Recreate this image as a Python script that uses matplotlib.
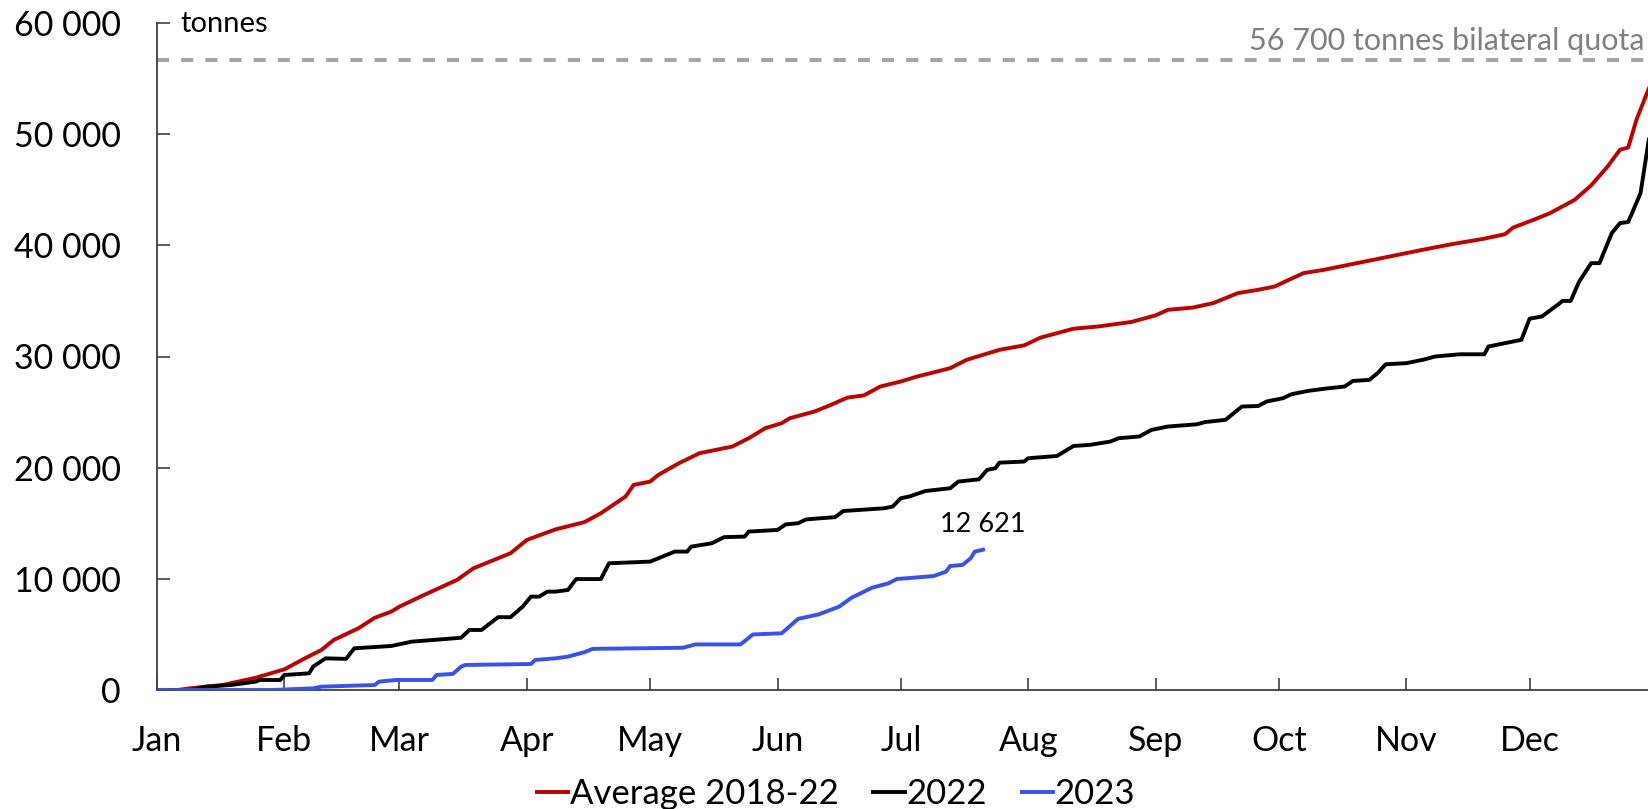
import matplotlib
matplotlib.use("Agg")
import matplotlib.pyplot as plt

plt.rcParams['font.family'] = ['Lato', 'DejaVu Sans']

# ---- data (day of year, cumulative tonnes) ----
avg_days = [0, 5, 8, 16, 24, 31, 36, 40, 43, 49, 53, 57, 59, 65, 73, 77, 81, 86, 90, 97,
            104, 108, 112, 114, 116, 120, 122, 127, 132, 140, 144, 148, 152, 154, 160, 164,
            168, 172, 176, 181, 185, 193, 197, 205, 211, 215, 223, 229, 237, 243, 246, 252,
            257, 263, 268, 272, 276, 279, 284, 292, 300, 308, 315, 323, 328, 330, 335, 339,
            345, 349, 353, 356, 358, 360, 363]
avg_vals = [0, 0, 150, 450, 1100, 1860, 2850, 3600, 4500, 5550, 6500, 7050, 7500, 8550, 9900,
            10950, 11550, 12300, 13500, 14450, 15100, 15900, 16900, 17400, 18450, 18750, 19350,
            20400, 21300, 21900, 22650, 23550, 24000, 24450, 25050, 25650, 26300, 26500, 27300,
            27750, 28200, 28950, 29700, 30600, 31000, 31700, 32500, 32700, 33100, 33700, 34200,
            34400, 34800, 35700, 36000, 36300, 37000, 37500, 37800, 38400, 39000, 39600, 40100,
            40600, 41000, 41600, 42300, 42900, 44100, 45400, 47100, 48600, 48800, 51300, 54100]

y22_days = [0, 8, 12, 18, 24, 25, 30, 31, 37, 38, 41, 46, 48, 57, 62, 74, 76, 79, 80, 83, 86,
            89, 91, 93, 95, 97, 100, 102, 108, 110, 120, 122, 124, 126, 129, 130, 135, 138, 143,
            144, 151, 153, 156, 158, 165, 167, 177, 179, 181, 183, 187, 193, 195, 200, 202, 204,
            205, 211, 212, 219, 223, 227, 232, 234, 239, 242, 246, 253, 255, 260, 264, 268, 270,
            274, 276, 280, 284, 289, 291, 295, 297, 299, 304, 308, 311, 317, 323, 324, 328, 332,
            334, 337, 341, 342, 344, 346, 349, 351, 354, 356, 358, 361, 363]
y22_vals = [0, 0, 300, 450, 750, 900, 900, 1350, 1500, 2100, 2850, 2800, 3750, 3960, 4350, 4700,
            5400, 5400, 5700, 6550, 6550, 7500, 8400, 8400, 8850, 8850, 9000, 9980, 9980, 11400,
            11550, 11850, 12150, 12450, 12450, 12900, 13200, 13750, 13800, 14250, 14400, 14900,
            15000, 15350, 15550, 16100, 16350, 16500, 17250, 17400, 17900, 18150, 18750, 18950,
            19800, 19950, 20450, 20550, 20850, 21050, 21950, 22050, 22350, 22650, 22800, 23400,
            23700, 23900, 24100, 24300, 25500, 25550, 25950, 26250, 26600, 26900, 27100, 27300,
            27800, 27900, 28500, 29300, 29400, 29700, 30000, 30200, 30200, 30900, 31200, 31500,
            33400, 33600, 34700, 35000, 35000, 36700, 38400, 38400, 41100, 42000, 42100, 44700,
            49500]

y23_days = [0, 28, 38, 40, 53, 54, 58, 67, 68, 72, 74, 75, 91, 92, 97, 100, 104, 106, 128, 131,
            142, 145, 152, 156, 161, 166, 169, 174, 178, 180, 189, 192, 193, 196, 198, 199, 201]
y23_vals = [0, 0, 150, 300, 450, 750, 900, 900, 1350, 1450, 2100, 2250, 2340, 2700, 2850, 3000,
            3400, 3700, 3800, 4100, 4100, 5000, 5100, 6400, 6800, 7500, 8300, 9200, 9600, 9980,
            10250, 10650, 11150, 11250, 11850, 12450, 12621]

quota = 56700
month_starts = [0, 31, 59, 90, 120, 151, 181, 212, 243, 273, 304, 334]
month_labels = ['Jan', 'Feb', 'Mar', 'Apr', 'May', 'Jun', 'Jul', 'Aug', 'Sep', 'Oct', 'Nov', 'Dec']
y_ticks = [0, 10000, 20000, 30000, 40000, 50000, 60000]
y_ticklabels = ['0', '10 000', '20 000', '30 000', '40 000', '50 000', '60 000']

# ---- figure ----
W, H = 1649, 809
fig = plt.figure(figsize=(W / 100, H / 100), dpi=100)
left, right, top, bottom = 157, 1657, 23, 690
ax = fig.add_axes([left / W, 1 - bottom / H, (right - left) / W, (bottom - top) / H])

red = '#C00000'
blue = '#3A50F7'
ax.plot(avg_days, avg_vals, color=red, lw=2.8, label='Average 2018-22', solid_joinstyle='round', zorder=3)
ax.plot(y22_days, y22_vals, color='black', lw=2.8, label='2022', solid_joinstyle='round', zorder=3)
ax.plot(y23_days, y23_vals, color=blue, lw=2.8, label='2023', solid_joinstyle='round', zorder=4)

ax.axhline(quota, color='#A6A6A6', lw=2.9, linestyle=(0, (3, 3)), zorder=2)

ax.set_xlim(0, 365)
ax.set_ylim(0, 60000)

for s in ['top', 'right']:
    ax.spines[s].set_visible(False)
for s in ['left', 'bottom']:
    ax.spines[s].set_color('#404040')
    ax.spines[s].set_linewidth(1.3)
ax.spines['bottom'].set_zorder(1)

ax.set_xticks(month_starts)
ax.set_xticklabels(month_labels)
ax.set_yticks(y_ticks)
ax.set_yticklabels(y_ticklabels)
ax.tick_params(axis='x', direction='in', length=9, width=1.2, color='#404040',
               pad=25, labelsize=24.5)
ax.tick_params(axis='y', direction='in', length=9, width=1.2, color='#404040',
               pad=26, labelsize=24.5)

# annotations
ax.annotate(f"{y23_vals[-1]:,}".replace(',', ' '), xy=(y23_days[-1], y23_vals[-1]),
            xytext=(0, 9), textcoords='offset points', ha='center', va='bottom',
            fontsize=19.5, color='black')
fig.text(1645 / W, 1 - 50 / H, '56 700 tonnes bilateral quota', ha='right', va='baseline',
         fontsize=22, color='#808080')
fig.text(180 / W, 1 - 32 / H, 'tonnes', ha='left', va='baseline', fontsize=21, color='black')

fig.legend(loc='center', bbox_to_anchor=(836 / W, 1 - 794 / H), ncol=3, frameon=False,
           fontsize=25, handlelength=0.9, handletextpad=0.05, columnspacing=1.0,
           borderaxespad=0, borderpad=0)

fig.savefig('out.png', dpi=100)
